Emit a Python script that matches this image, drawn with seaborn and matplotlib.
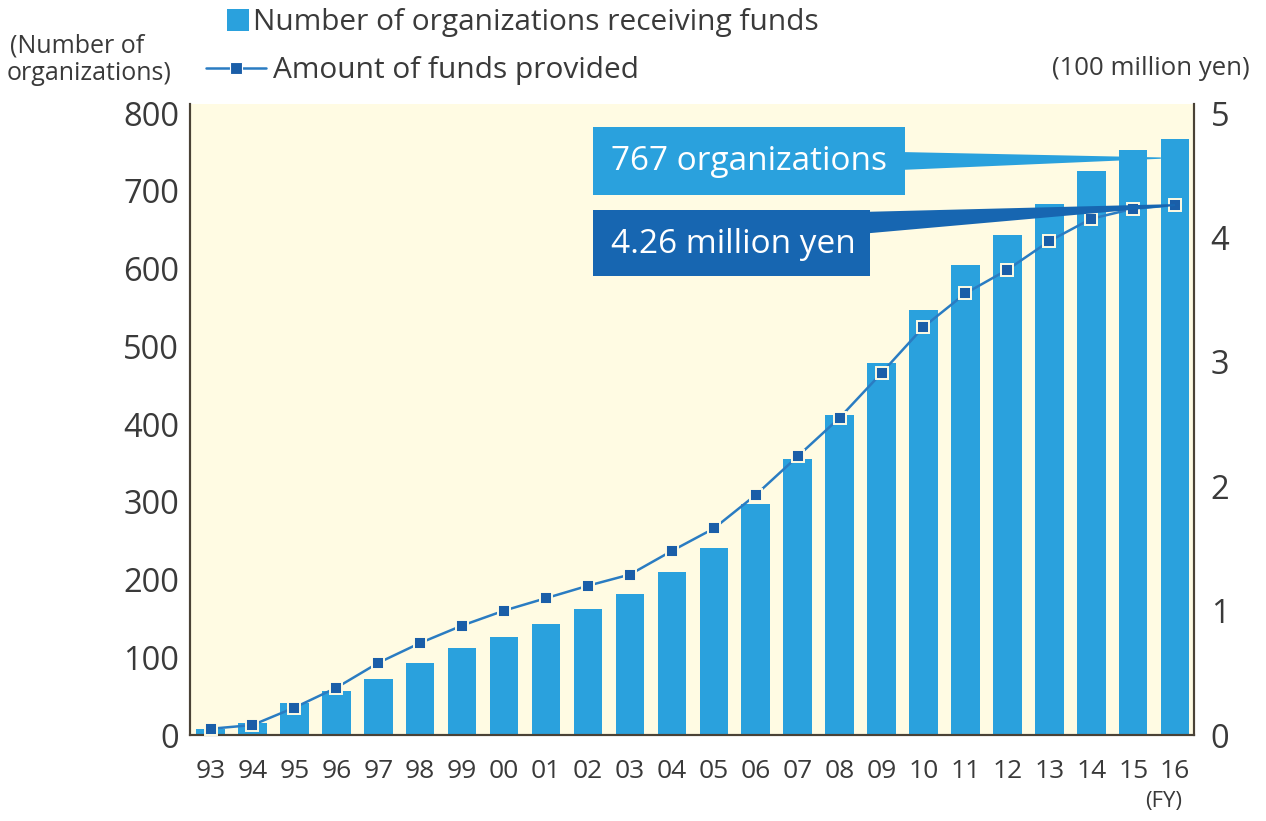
import numpy as np
import pandas as pd
import matplotlib
matplotlib.use("Agg")
import matplotlib.pyplot as plt
from matplotlib.patches import Rectangle, Polygon, Patch
from matplotlib.lines import Line2D
import seaborn as sns

# Fiscal years 1993-2016
fiscal_years = ["93", "94", "95", "96", "97", "98", "99", "00", "01", "02", "03", "04",
                "05", "06", "07", "08", "09", "10", "11", "12", "13", "14", "15", "16"]
# Number of organizations receiving funds
organizations = [8, 15, 41, 56, 72, 92, 112, 126, 143, 162, 181, 210,
                 240, 297, 355, 411, 479, 547, 605, 643, 683, 726, 752, 767]
# Amount of funds provided (100 million yen)
funds = [0.05, 0.08, 0.22, 0.38, 0.58, 0.74, 0.88, 1.00, 1.10, 1.20, 1.29, 1.48,
         1.66, 1.93, 2.24, 2.55, 2.91, 3.28, 3.55, 3.74, 3.97, 4.15, 4.23, 4.26]
left_ticks = [0, 100, 200, 300, 400, 500, 600, 700, 800]
right_ticks = [0, 1, 2, 3, 4, 5]

BAR = "#2aa1dd"
LINE = "#2a7cc2"
MARK = "#1a5ea8"
CREAM = "#fffbe3"
BOX2 = "#1766b1"
TXT = "#3a3a3a"
SPINE = "#4a4236"

sns.set_theme(style="white")
plt.rcParams["font.family"] = ["Open Sans", "DejaVu Sans"]

W, H = 1266, 821
fig = plt.figure(figsize=(W / 100, H / 100), dpi=100)


def fx(px):
    return px / W


def fy(py):
    return 1 - py / H


ax = fig.add_axes([fx(190), fy(735), fx(1194) - fx(190), fy(104) - fy(735)])
ax.set_facecolor(CREAM)

df = pd.DataFrame({"fy": fiscal_years, "orgs": organizations, "funds": funds})
sns.barplot(data=df, x="fy", y="orgs", color=BAR, saturation=1, width=0.68,
            edgecolor="none", ax=ax, zorder=2)

ymax_left = 800 + (113 - 104) / ((735 - 113) / 800)
ax.set_ylim(0, ymax_left)
ax.set_xlim(-0.49, 23.45)
ax.set_yticks(left_ticks)
ax.set_xlabel("")
ax.set_ylabel("")
ax.tick_params(axis="y", length=0, pad=8, labelsize=23.5, labelcolor=TXT)
ax.tick_params(axis="x", length=0, pad=17, labelsize=19, labelcolor=TXT)

ax2 = ax.twinx()
positions = np.arange(len(fiscal_years))
sns.lineplot(x=positions, y=df["funds"], ax=ax2, color=LINE, linewidth=1.8,
             marker="s", markersize=8, markerfacecolor=MARK,
             markeredgecolor=CREAM, markeredgewidth=1.4, zorder=3)
ax2.set_ylim(0, ymax_left * 5 / 800)
ax2.set_yticks(right_ticks)
ax2.set_ylabel("")
ax2.tick_params(axis="y", length=0, pad=12, labelsize=23.5, labelcolor=TXT)
ax2.grid(False)
ax.grid(False)

for a in (ax, ax2):
    a.spines["top"].set_visible(False)
    for s in ("left", "right", "bottom"):
        a.spines[s].set_color(SPINE)
        a.spines[s].set_linewidth(1.5)

# Axis unit captions
fig.text(fx(10), fy(46), "(Number of", fontsize=18, color=TXT, ha="left", va="center")
fig.text(fx(7), fy(74), "organizations)", fontsize=18, color=TXT, ha="left", va="center")
fig.text(fx(1250), fy(68), "(100 million yen)", fontsize=18.5, color=TXT, ha="right", va="center")
fig.text(fx(1164), fy(801), "(FY)", fontsize=16, color=TXT, ha="center", va="center")

# Legend
leg1 = fig.legend(handles=[Patch(facecolor=BAR, edgecolor="none")],
                  labels=["Number of organizations receiving funds"],
                  loc="upper left", bbox_to_anchor=(fx(227), fy(8)), frameon=False,
                  handlelength=0.75, handleheight=0.75, handletextpad=0.12,
                  fontsize=21.5, borderpad=0, borderaxespad=0, labelcolor=TXT)
leg2 = fig.legend(handles=[Line2D([0], [0], color=LINE, lw=1.8, marker="s",
                                  markersize=9, markerfacecolor=MARK,
                                  markeredgecolor="white", markeredgewidth=0.8)],
                  labels=["Amount of funds provided"],
                  loc="upper left", bbox_to_anchor=(fx(206), fy(56)), frameon=False,
                  handlelength=2.0, handletextpad=0.25,
                  fontsize=21.5, borderpad=0, borderaxespad=0, labelcolor=TXT)

# Callout boxes for the latest year
fig.canvas.draw()
to_fig = fig.transFigure.inverted()
last = len(fiscal_years) - 1
bar_pt = to_fig.transform(ax.transData.transform((last - 0.34, organizations[-1] - 25)))
line_pt = to_fig.transform(ax2.transData.transform((last, funds[-1])))

fig.add_artist(Polygon([(fx(900), fy(152)), (fx(900), fy(170)),
                        (bar_pt[0], bar_pt[1] - 0.0008), (bar_pt[0], bar_pt[1] + 0.0008)],
                       closed=True, facecolor=BAR, edgecolor="none", zorder=5))
fig.add_artist(Rectangle((fx(593), fy(195)), fx(905) - fx(593), fy(127) - fy(195),
                         facecolor=BAR, edgecolor="none", zorder=6))
fig.text(fx(749), fy(161), "767 organizations", fontsize=24, color="white",
         ha="center", va="center", zorder=7)

fig.add_artist(Polygon([(fx(860), fy(212)), (fx(860), fy(234)),
                        (line_pt[0], line_pt[1] - 0.0012), (line_pt[0], line_pt[1] + 0.0012)],
                       closed=True, facecolor=BOX2, edgecolor="none", zorder=5))
fig.add_artist(Rectangle((fx(593), fy(276)), fx(870) - fx(593), fy(210) - fy(276),
                         facecolor=BOX2, edgecolor="none", zorder=6))
fig.text(fx(733), fy(244), "4.26 million yen", fontsize=24, color="white",
         ha="center", va="center", zorder=7)

fig.savefig("out.png", dpi=100, facecolor="white")
